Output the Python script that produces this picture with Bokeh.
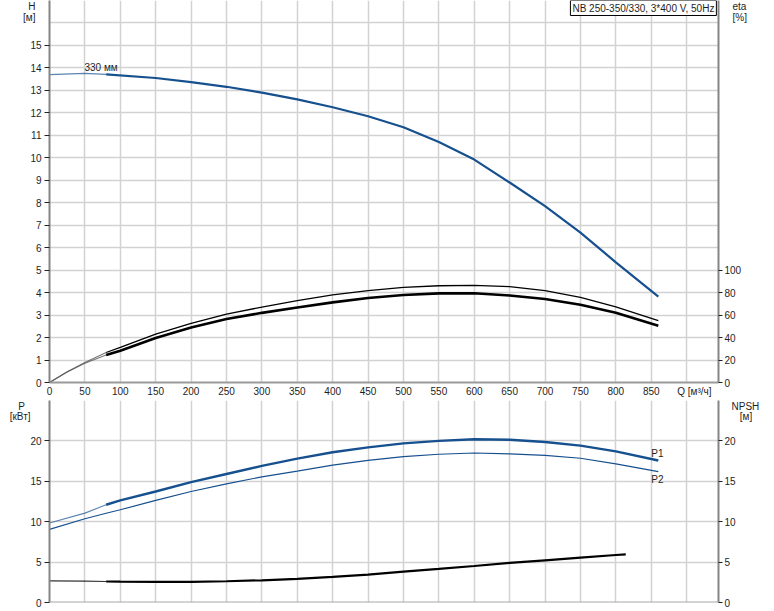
from bokeh.plotting import figure
from bokeh.models import Range1d, LinearAxis, FixedTicker, Label, Span
from bokeh.layouts import column
from bokeh.embed import file_html
from bokeh.resources import INLINE

# ---------------- data ----------------
q_ticks = [0, 50, 100, 150, 200, 250, 300, 350, 400, 450, 500, 550, 600, 650, 700, 750, 800, 850]
q_grid = q_ticks + [900]
h_ticks = [0, 1, 2, 3, 4, 5, 6, 7, 8, 9, 10, 11, 12, 13, 14, 15]
h_grid = h_ticks + [16]
eta_ticks = [0, 20, 40, 60, 80, 100]
p_ticks = [0, 5, 10, 15, 20]
p_grid = [0, 5, 10, 15, 20, 25]

# head curve (m)
q_h = [0, 50, 80, 150, 200, 250, 300, 350, 400, 450, 500, 550, 600, 650, 700, 750, 800, 860]
h_val = [13.70, 13.76, 13.71, 13.55, 13.37, 13.16, 12.90, 12.60, 12.25, 11.85, 11.36, 10.70,
         9.92, 8.90, 7.85, 6.67, 5.35, 3.82]

# efficiency curves (%)
q_eta = [0, 25, 50, 80, 100, 150, 200, 250, 300, 350, 400, 450, 500, 550, 600, 650, 700, 750, 800, 860]
eta_upper = [0, 9.5, 17.8, 26.7, 31.2, 43.1, 52.6, 60.9, 67.1, 72.8, 77.9, 81.7, 84.6, 86.1,
             86.4, 85.3, 81.7, 75.7, 67.4, 55.0]
eta_lower = [0, 9.3, 17.2, 24.4, 28.2, 39.6, 49.0, 56.5, 62.0, 66.8, 71.3, 75.2, 77.9, 79.3,
             79.5, 77.5, 74.3, 69.2, 62.1, 50.5]

# power curves (kW)
q_p = [0, 50, 80, 100, 150, 200, 250, 300, 350, 400, 450, 500, 550, 600, 650, 700, 750, 800, 860]
p1_val = [9.83, 11.06, 12.10, 12.63, 13.74, 14.90, 15.90, 16.90, 17.80, 18.60, 19.20, 19.70,
          20.00, 20.20, 20.15, 19.87, 19.42, 18.70, 17.57]
p2_val = [9.05, 10.37, 11.05, 11.48, 12.63, 13.74, 14.69, 15.55, 16.25, 17.00, 17.60, 18.06,
          18.35, 18.50, 18.40, 18.20, 17.85, 17.16, 16.20]

# NPSH curve (m)
q_npsh = [0, 50, 80, 100, 150, 200, 250, 300, 350, 400, 450, 500, 550, 600, 650, 700, 750, 800, 814]
npsh_val = [2.67, 2.65, 2.60, 2.58, 2.55, 2.56, 2.63, 2.75, 2.92, 3.16, 3.45, 3.82, 4.15, 4.52,
            4.90, 5.22, 5.55, 5.88, 5.96]

title_text = "NB 250-350/330, 3*400 V, 50Hz"
curve_label = "330 мм"
q_label = "Q [м³/ч]"
h_label = ["H", "[м]"]
eta_label = ["eta", "[%]"]
p_label = ["P", "[кВт]"]
npsh_label = ["NPSH", "[м]"]

# ---------------- style / placement ----------------
FONT = "Liberation Sans"
BLUE = "#16508e"
GRID = "#d2d2d2"
AXIS = "#858585"
TXT = "#1e1e1e"
NB = "\u00a0"
X_MAX = 945
H_MAX = 17.0
P_MAX = 25.0
Q_SPLIT = 80
Q_LABEL_POS = 911
TOP_LABEL_POS = [16.78, 16.26]      # H units
BOT_LABEL_POS = [24.47, 23.06]      # kW units


def split(xs, ys):
    a = [(x, y) for x, y in zip(xs, ys) if x <= Q_SPLIT]
    b = [(x, y) for x, y in zip(xs, ys) if x >= Q_SPLIT]
    return [p[0] for p in a], [p[1] for p in a], [p[0] for p in b], [p[1] for p in b]


def style_axis(ax, tick_out=4, standoff=2):
    ax.axis_line_color = AXIS
    ax.axis_line_width = 2
    ax.major_tick_line_color = "#222222"
    ax.major_tick_out = tick_out
    ax.major_tick_in = 0
    ax.minor_tick_line_color = None
    ax.major_label_text_font = FONT
    ax.major_label_text_font_size = "10px"
    ax.major_label_text_color = TXT
    ax.major_label_standoff = standoff


def label_axis(positions, texts, standoff, y_range_name="default"):
    ax = LinearAxis(y_range_name=y_range_name, ticker=FixedTicker(ticks=positions),
                    major_label_overrides={pos: t for pos, t in zip(positions, texts)})
    style_axis(ax, tick_out=0, standoff=standoff)
    ax.axis_line_color = None
    ax.major_tick_line_color = None
    return ax


def txt(p, x, y, s, align="center", baseline="middle", **kw):
    lab = Label(x=x, y=y, text=s, text_font=FONT, text_font_size="10px", text_color=TXT,
                text_align=align, text_baseline=baseline, **kw)
    p.add_layout(lab)
    return lab


# ---------------- top figure ----------------
top = figure(width=774, height=400, x_range=Range1d(0, X_MAX), y_range=Range1d(0, H_MAX),
             output_backend="svg", toolbar_location=None,
             min_border_left=49, min_border_right=56, min_border_top=0, min_border_bottom=18,
             outline_line_color=None, background_fill_color="white", border_fill_color="white")
top.extra_y_ranges = {"eta": Range1d(0, H_MAX * 20)}

top.xaxis.ticker = FixedTicker(ticks=q_ticks + [Q_LABEL_POS])
top.xaxis.major_label_overrides = {Q_LABEL_POS: q_label}
top.yaxis.ticker = FixedTicker(ticks=h_ticks)
style_axis(top.xaxis[0], tick_out=0, standoff=3)
style_axis(top.yaxis[0], tick_out=5, standoff=3)
top.xaxis[0].axis_line_color = "#9a9a9a"
eta_axis = LinearAxis(y_range_name="eta", ticker=FixedTicker(ticks=eta_ticks))
style_axis(eta_axis)
top.add_layout(eta_axis, "right")

# axis titles as tick labels of tick-less helper axes (outside the frame)
top.add_layout(label_axis(TOP_LABEL_POS, h_label, -8), "left")
top.add_layout(label_axis([v * 20 for v in TOP_LABEL_POS], eta_label, -12, "eta"), "right")

top.xgrid.ticker = FixedTicker(ticks=q_grid)
top.ygrid.ticker = FixedTicker(ticks=h_grid)
for g in (top.xgrid[0], top.ygrid[0]):
    g.grid_line_color = GRID
    g.grid_line_width = 1.5

# head
xa, ya, xb, yb = split(q_h, h_val)
top.line(xa, ya, line_color=BLUE, line_width=1.2, line_alpha=0.7)
top.line(xb, yb, line_color=BLUE, line_width=2.2)

# efficiency
for ev, lw in ((eta_upper, 1.3), (eta_lower, 2.6)):
    xa, ya, xb, yb = split(q_eta, ev)
    top.line(xa, ya, y_range_name="eta", line_color="#555555", line_width=1.1, line_alpha=0.8)
    top.line(xb, yb, y_range_name="eta", line_color="black", line_width=lw)

txt(top, 49.4, 14.03, curve_label, align="left")
txt(top, 942, H_MAX, title_text, align="right", baseline="top",
    border_line_color="black", border_line_width=1, background_fill_color="white", padding=2)

# ---------------- bottom figure ----------------
bot = figure(width=774, height=211, x_range=top.x_range, y_range=Range1d(0, P_MAX),
             output_backend="svg", toolbar_location=None, x_axis_location=None,
             min_border_left=49, min_border_right=56, min_border_top=0, min_border_bottom=9,
             outline_line_color=None, background_fill_color="white", border_fill_color="white")
bot.yaxis.ticker = FixedTicker(ticks=p_ticks)
style_axis(bot.yaxis[0], tick_out=5, standoff=3)
npsh_axis = LinearAxis(ticker=FixedTicker(ticks=p_ticks))
style_axis(npsh_axis)
bot.add_layout(npsh_axis, "right")
bot.add_layout(label_axis(BOT_LABEL_POS, [p_label[0] + NB * 2, p_label[1]], -3), "left")
bot.add_layout(label_axis(BOT_LABEL_POS, [npsh_label[0], NB * 3 + npsh_label[1]], -7), "right")

bot.xgrid.ticker = FixedTicker(ticks=q_grid)
bot.ygrid.ticker = FixedTicker(ticks=p_grid)
for g in (bot.xgrid[0], bot.ygrid[0]):
    g.grid_line_color = GRID
    g.grid_line_width = 1.5
bot.add_layout(Span(location=0, dimension="width", line_color="#a8a8a8", line_width=2))

xa, ya, xb, yb = split(q_p, p1_val)
bot.line(xa, ya, line_color=BLUE, line_width=1.1, line_alpha=0.7)
bot.line(xb, yb, line_color=BLUE, line_width=2.4)
bot.line(q_p, p2_val, line_color=BLUE, line_width=1.2)

xa, ya, xb, yb = split(q_npsh, npsh_val)
bot.line(xa, ya, line_color="black", line_width=1.2, line_alpha=0.8)
bot.line(xb, yb, line_color="black", line_width=2.2)

txt(bot, 850, 18.4, "P1", align="left")
txt(bot, 850, 15.26, "P2", align="left")

layout = column(top, bot, spacing=0)
open("out.html", "w").write(file_html(layout, INLINE))
